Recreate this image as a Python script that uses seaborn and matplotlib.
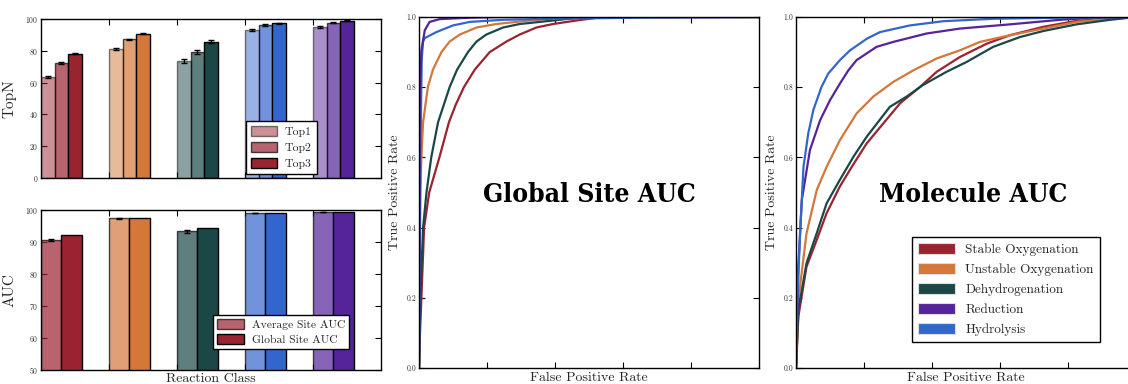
import numpy as np
import pandas as pd
import matplotlib
matplotlib.use("Agg")
import matplotlib.pyplot as plt
from matplotlib.patches import Patch
import seaborn as sns

# ---------------- data ----------------
classes = ["Stable Oxygenation", "Unstable Oxygenation", "Dehydrogenation",
           "Hydrolysis", "Reduction"]
class_colors = {
    "Stable Oxygenation": "#9a2330",
    "Unstable Oxygenation": "#d3773a",
    "Dehydrogenation": "#1b4747",
    "Reduction": "#55239a",
    "Hydrolysis": "#3366cc",
}

topn_levels = ["Top1", "Top2", "Top3"]
top1 = [63.6, 81.0, 73.4, 92.9, 95.0]
top2 = [72.4, 87.2, 79.5, 96.2, 97.7]
top3 = [78.2, 90.8, 85.8, 97.3, 99.0]
top1_err = [0.8, 0.5, 1.3, 0.5, 0.6]
top2_err = [0.6, 0.4, 1.2, 0.4, 0.4]
top3_err = [0.5, 0.3, 1.2, 0.4, 0.3]

auc_levels = ["Average Site AUC", "Global Site AUC"]
avg_site_auc = [90.6, 97.4, 93.3, 99.1, 99.4]
global_site_auc = [92.3, 97.4, 94.4, 99.0, 99.4]
avg_site_err = [0.2, 0.15, 0.4, 0.1, 0.1]

# ROC curves, global site level
g_stable_fpr = [0.0, 0.003, 0.007, 0.015, 0.03, 0.06, 0.088, 0.108, 0.132, 0.164, 0.208, 0.257, 0.296, 0.345, 0.394, 0.463, 0.54, 1.0]
g_stable_tpr = [0.0, 0.1, 0.2, 0.4, 0.5, 0.6, 0.7, 0.75, 0.8, 0.85, 0.9, 0.93, 0.95, 0.97, 0.98, 0.99, 1.0, 1.0]
g_unstable_fpr = [0.0, 0.002, 0.004, 0.007, 0.012, 0.026, 0.041, 0.066, 0.09, 0.12, 0.169, 0.227, 0.325, 0.443, 1.0]
g_unstable_tpr = [0.0, 0.3, 0.5, 0.6, 0.7, 0.8, 0.85, 0.9, 0.93, 0.95, 0.97, 0.98, 0.99, 1.0, 1.0]
g_dehydro_fpr = [0.0, 0.002, 0.004, 0.012, 0.022, 0.036, 0.056, 0.09, 0.112, 0.144, 0.169, 0.198, 0.247, 0.296, 0.394, 0.49, 1.0]
g_dehydro_tpr = [0.0, 0.1, 0.2, 0.4, 0.5, 0.6, 0.7, 0.8, 0.85, 0.9, 0.93, 0.95, 0.97, 0.98, 0.99, 1.0, 1.0]
g_reduction_fpr = [0.0, 0.002, 0.007, 0.017, 0.031, 0.061, 0.149, 0.25, 1.0]
g_reduction_tpr = [0.0, 0.76, 0.905, 0.962, 0.986, 0.994, 0.998, 1.0, 1.0]
g_hydrolysis_fpr = [0.0, 0.004, 0.008, 0.012, 0.017, 0.051, 0.1, 0.149, 0.247, 0.394, 0.64, 1.0]
g_hydrolysis_tpr = [0.0, 0.6, 0.88, 0.93, 0.94, 0.957, 0.976, 0.986, 0.992, 0.995, 0.998, 1.0]

# ROC curves, molecule level
m_stable_fpr = [0.0, 0.007, 0.031, 0.061, 0.09, 0.129, 0.164, 0.208, 0.257, 0.306, 0.365, 0.414, 0.482, 0.561, 0.629, 0.727, 0.825, 0.924, 1.0]
m_stable_tpr = [0.0, 0.147, 0.289, 0.365, 0.441, 0.517, 0.573, 0.640, 0.697, 0.754, 0.801, 0.844, 0.886, 0.924, 0.948, 0.972, 0.989, 0.995, 1.0]
m_unstable_fpr = [0.0, 0.007, 0.031, 0.061, 0.09, 0.129, 0.178, 0.227, 0.286, 0.345, 0.414, 0.482, 0.541, 0.629, 0.727, 0.825, 0.924, 1.0]
m_unstable_tpr = [0.0, 0.194, 0.384, 0.507, 0.573, 0.649, 0.725, 0.773, 0.815, 0.848, 0.882, 0.905, 0.929, 0.948, 0.967, 0.986, 0.995, 1.0]
m_dehydro_fpr = [0.0, 0.007, 0.031, 0.061, 0.09, 0.129, 0.169, 0.208, 0.276, 0.325, 0.373, 0.443, 0.502, 0.580, 0.659, 0.727, 0.825, 0.924, 1.0]
m_dehydro_tpr = [0.0, 0.166, 0.299, 0.384, 0.469, 0.536, 0.602, 0.659, 0.744, 0.773, 0.806, 0.844, 0.872, 0.915, 0.943, 0.960, 0.979, 0.992, 1.0]
m_reduction_fpr = [0.0, 0.007, 0.017, 0.041, 0.071, 0.1, 0.129, 0.154, 0.178, 0.237, 0.286, 0.384, 0.482, 0.629, 0.776, 0.875, 1.0]
m_reduction_tpr = [0.0, 0.289, 0.478, 0.621, 0.706, 0.763, 0.81, 0.848, 0.877, 0.915, 0.929, 0.953, 0.967, 0.979, 0.992, 0.998, 1.0]
m_hydrolysis_fpr = [0.0, 0.004, 0.012, 0.022, 0.036, 0.051, 0.075, 0.095, 0.129, 0.159, 0.208, 0.247, 0.335, 0.433, 0.58, 0.776, 1.0]
m_hydrolysis_tpr = [0.0, 0.2, 0.384, 0.573, 0.668, 0.735, 0.801, 0.839, 0.877, 0.905, 0.938, 0.957, 0.976, 0.988, 0.995, 0.998, 1.0]

legend_order = ["Stable Oxygenation", "Unstable Oxygenation", "Dehydrogenation",
                "Reduction", "Hydrolysis"]

# ---------------- style ----------------
sns.set_style("white")
plt.rcParams["font.family"] = ["cmr10", "DejaVu Serif"]
plt.rcParams["axes.formatter.use_mathtext"] = True
plt.rcParams["axes.unicode_minus"] = False

W, H = 1128, 384
fig = plt.figure(figsize=(W / 100, H / 100), dpi=100)


def box(x0, y0, x1, y1):
    return [x0 / W, 1 - y1 / H, (x1 - x0) / W, (y1 - y0) / H]


ax_top = fig.add_axes(box(41, 19, 381, 178))
ax_bot = fig.add_axes(box(41, 210, 381, 370))
ax_glob = fig.add_axes(box(419, 17, 759, 368))
ax_mol = fig.add_axes(box(796, 17, 1136, 368))


def style_axes(ax):
    for s in ax.spines.values():
        s.set_color("black")
        s.set_linewidth(1.0)
    ax.tick_params(direction="in", top=True, right=True, bottom=True, left=True,
                   length=4, width=0.8, colors="black", labelsize=5.5,
                   labelcolor="#333333", pad=2)


palette = [class_colors[c] for c in classes]
group_idx = np.arange(len(classes))


def grouped_bars(ax, levels, values, errs, alphas, width):
    for k, (lvl, vals, err, a) in enumerate(zip(levels, values, errs, alphas)):
        pos = group_idx + width * k + width / 2
        df = pd.DataFrame({"pos": pos, "value": vals, "cls": classes})
        sns.barplot(data=df, x="pos", y="value", hue="cls", palette=palette,
                    hue_order=classes, native_scale=True, width=width,
                    dodge=False, legend=False, alpha=a, edgecolor="black",
                    linewidth=1.0, saturation=1, ax=ax, errorbar=None)
        if err is not None:
            ax.errorbar(pos, vals, yerr=err, fmt="none", ecolor="black",
                        elinewidth=1.0, capsize=2, capthick=1.0, zorder=5)


# ---- TopN bars ----
grouped_bars(ax_top, topn_levels, [top1, top2, top3],
             [top1_err, top2_err, top3_err], [0.5, 0.7, 1.0], 0.2)
ax_top.set_xlim(0, 5)
ax_top.set_ylim(0, 100)
ax_top.set_xticks([1, 2, 3, 4])
ax_top.set_xticklabels([])
ax_top.set_yticks(range(0, 101, 20))
ax_top.set_xlabel("")
ax_top.set_ylabel("TopN", fontsize=11, labelpad=6)
style_axes(ax_top)
red = class_colors["Stable Oxygenation"]
h_top = [Patch(facecolor=red, alpha=a, edgecolor="black", linewidth=1.0)
         for a in (0.5, 0.7, 1.0)]
leg = ax_top.legend(h_top, topn_levels, loc="lower left",
                    bbox_to_anchor=((246 - 41) / 340, (178 - 174) / 159),
                    fontsize=8.5, fancybox=False, framealpha=1, edgecolor="black",
                    handlelength=2.2, handleheight=0.9, borderpad=0.4,
                    labelspacing=0.45, handletextpad=0.7, borderaxespad=0)
leg.get_frame().set_linewidth(1.0)

# ---- AUC bars ----
grouped_bars(ax_bot, auc_levels, [avg_site_auc, global_site_auc],
             [avg_site_err, None], [0.7, 1.0], 0.3)
ax_bot.set_xlim(0, 5)
ax_bot.set_ylim(50, 100)
ax_bot.set_xticks([1, 2, 3, 4])
ax_bot.set_xticklabels([])
ax_bot.set_yticks(range(50, 101, 10))
ax_bot.set_ylabel("AUC", fontsize=11, labelpad=6)
ax_bot.set_xlabel("Reaction Class", fontsize=10, labelpad=0)
style_axes(ax_bot)
h_bot = [Patch(facecolor=red, alpha=a, edgecolor="black", linewidth=1.0)
         for a in (0.7, 1.0)]
leg = ax_bot.legend(h_bot, auc_levels, loc="lower left",
                    bbox_to_anchor=((213 - 41) / 340, (370 - 349) / 160),
                    fontsize=8.3, fancybox=False, framealpha=1, edgecolor="black",
                    handlelength=2.3, handleheight=0.9, borderpad=0.35,
                    labelspacing=0.35, handletextpad=0.7, borderaxespad=0)
leg.get_frame().set_linewidth(1.0)

# ---- ROC curves ----
glob_curves = {
    "Stable Oxygenation": (g_stable_fpr, g_stable_tpr),
    "Unstable Oxygenation": (g_unstable_fpr, g_unstable_tpr),
    "Dehydrogenation": (g_dehydro_fpr, g_dehydro_tpr),
    "Hydrolysis": (g_hydrolysis_fpr, g_hydrolysis_tpr),
    "Reduction": (g_reduction_fpr, g_reduction_tpr),
}
mol_curves = {
    "Stable Oxygenation": (m_stable_fpr, m_stable_tpr),
    "Unstable Oxygenation": (m_unstable_fpr, m_unstable_tpr),
    "Dehydrogenation": (m_dehydro_fpr, m_dehydro_tpr),
    "Reduction": (m_reduction_fpr, m_reduction_tpr),
    "Hydrolysis": (m_hydrolysis_fpr, m_hydrolysis_tpr),
}

for ax, curves, title, tx in ((ax_glob, glob_curves, "Global Site AUC", 0.5),
                              (ax_mol, mol_curves, "Molecule AUC", 0.52)):
    for name, (fpr, tpr) in curves.items():
        sns.lineplot(x=fpr, y=tpr, color=class_colors[name], sort=False,
                     estimator=None, linewidth=1.6, ax=ax)
    ax.set_xlim(0, 1)
    ax.set_ylim(0, 1)
    ax.set_xticks([0.2, 0.4, 0.6, 0.8])
    ax.set_xticklabels([])
    ax.set_yticks(np.arange(0, 1.01, 0.2))
    ax.set_yticklabels([f"{v:.1f}" for v in np.arange(0, 1.01, 0.2)])
    ax.set_xlabel("False Positive Rate", fontsize=10, labelpad=1)
    ax.set_ylabel("True Positive Rate", fontsize=10, labelpad=4)
    style_axes(ax)
    ax.text(tx, 0.495, title, transform=ax.transAxes, ha="center", va="center",
            fontsize=19, fontweight="bold", fontstretch="condensed",
            family="DejaVu Serif", color="black")

h_mol = [Patch(facecolor=class_colors[c], edgecolor="#dddddd", linewidth=0.8)
         for c in legend_order]
leg = ax_mol.legend(h_mol, legend_order, loc="lower left",
                    bbox_to_anchor=((912 - 796) / 340, (368 - 342) / 351),
                    fontsize=9.5, fancybox=False, framealpha=1, edgecolor="black",
                    handlelength=2.8, handleheight=1.0, borderpad=0.45,
                    labelspacing=0.5, handletextpad=0.8, borderaxespad=0)
leg.get_frame().set_linewidth(1.0)

fig.savefig("out.png", dpi=100)
